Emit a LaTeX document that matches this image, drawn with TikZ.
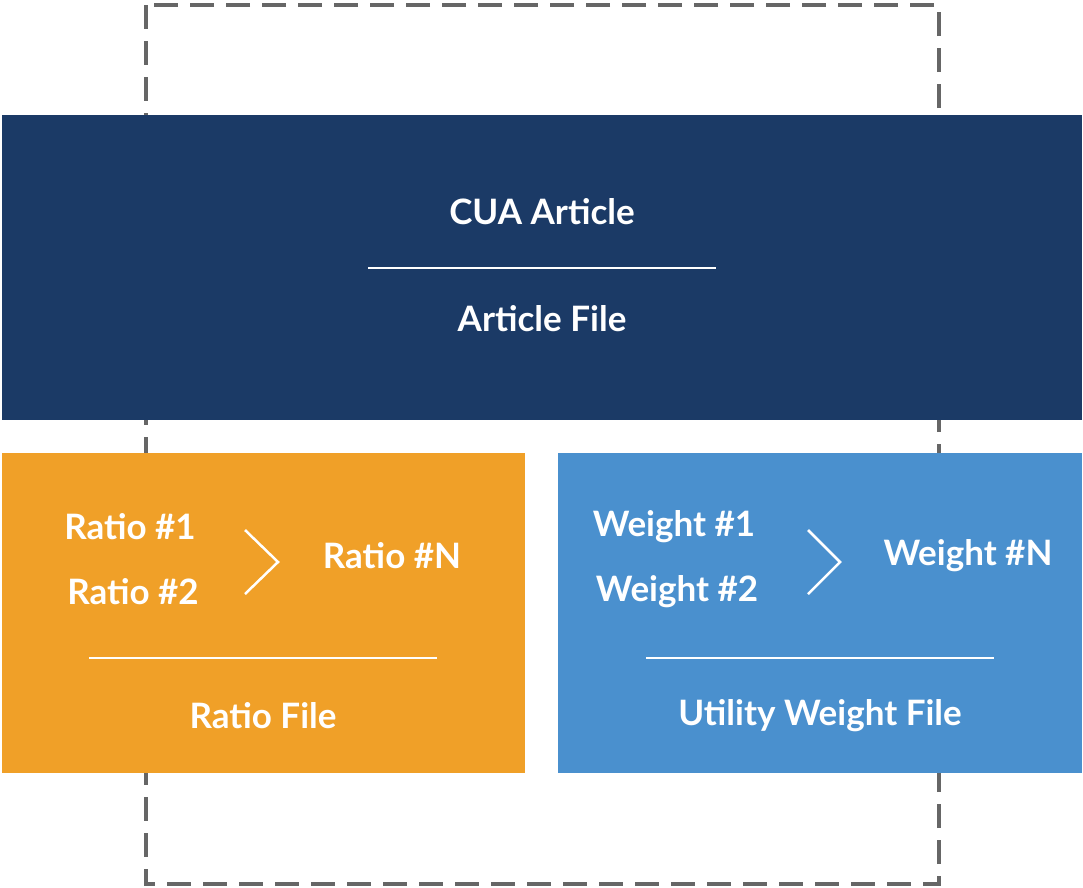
\documentclass[tikz,border=0pt]{standalone}
\usepackage{fontspec}
\setmainfont{Lato}
\definecolor{navy}{HTML}{1B3A66}
\definecolor{amber}{HTML}{F0A028}
\definecolor{sky}{HTML}{4A90CE}
\definecolor{dashgray}{HTML}{666666}
\begin{document}
\begin{tikzpicture}[x=1pt,y=-1pt,
    label/.style={text=white,font=\fontsize{35}{40}\selectfont\bfseries,inner sep=0pt},
    rule/.style={white,line width=2.5pt},
    chev/.style={white,line width=2.5pt}]
  \useasboundingbox (0,0) rectangle (1083,887);
  % frame behind
  \draw[dashgray,line width=3.5pt,dash pattern=on 24pt off 12pt] (146,5) rectangle (939,884);
  % panels
  \fill[navy] (2,115) rectangle (1082,420);
  \fill[amber] (2,453) rectangle (525,773);
  \fill[sky] (558,453) rectangle (1082,773);
  % top panel
  \node[label] (cua) at (542,212) {CUA Article};
  \draw[rule] (368,268) -- (716,268);
  \node[label] (art) at (542,319) {Article File};
  % ratio panel
  \node[label] (r1) at (130,527) {Ratio \#1};
  \node[label] (r2) at (133,592) {Ratio \#2};
  \node[label] (rn) at (392,556) {Ratio \#N};
  \draw[chev] (245,530) -- (278,562) -- (245,594);
  \draw[rule] (89,658) -- (437,658);
  \node[label] (rf) at (263,716) {Ratio File};
  % weight panel
  \node[label] (w1) at (674,527) {Weight \#1};
  \node[label] (w2) at (677,592) {Weight \#2};
  \node[label] (wn) at (968,556) {Weight \#N};
  \draw[chev] (808,530) -- (840,562) -- (808,594);
  \draw[rule] (646,658) -- (994,658);
  \node[label] (wf) at (820,716) {Utility Weight File};
\end{tikzpicture}
\end{document}
